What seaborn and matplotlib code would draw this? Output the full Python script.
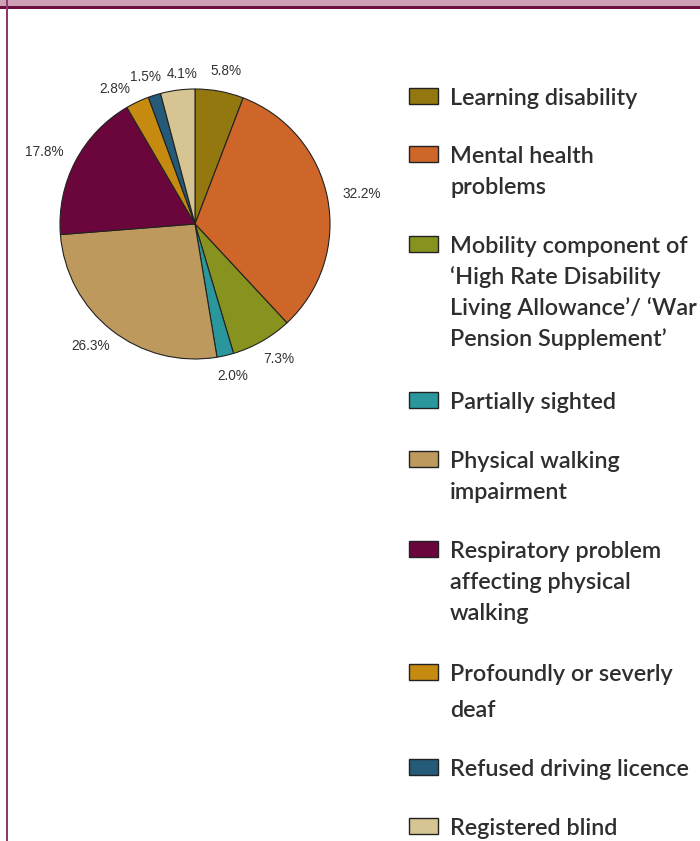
import numpy as np
import matplotlib
matplotlib.use("Agg")
import matplotlib.pyplot as plt
from matplotlib.patches import Rectangle
import seaborn as sns

# ---- data ----
categories = [
    "Learning disability",
    "Mental health\nproblems",
    "Mobility component of\n\u2018High Rate Disability\nLiving Allowance\u2019/ \u2018War\nPension Supplement\u2019",
    "Partially sighted",
    "Physical walking\nimpairment",
    "Respiratory problem\naffecting physical\nwalking",
    "Profoundly or severly\ndeaf",
    "Refused driving licence",
    "Registered blind",
]
values = [5.8, 32.2, 7.3, 2.0, 26.3, 17.8, 2.8, 1.5, 4.1]
pct_labels = ["5.8%", "32.2%", "7.3%", "2.0%", "26.3%", "17.8%", "2.8%", "1.5%", "4.1%"]
colors = ["#93780f", "#cd6628", "#88921e", "#2a979c", "#bd995d",
          "#6a063b", "#c68a10", "#255a78", "#d6c492"]

sns.set_theme(style="white")
plt.rcParams["font.family"] = ["Liberation Sans", "DejaVu Sans"]

W, H = 700, 841
fig = plt.figure(figsize=(W / 100, H / 100), dpi=100)
fig.patch.set_facecolor("white")

def fx(px):
    return px / W

def fy(py):
    return 1 - py / H

# frame decorations
fig.patches.append(Rectangle((0, fy(6)), 1, 6 / H, transform=fig.transFigure,
                             facecolor="#cda0b5", edgecolor="none", zorder=0))
fig.patches.append(Rectangle((0, fy(8.5)), 1, 2.5 / H, transform=fig.transFigure,
                             facecolor="#6a0f40", edgecolor="none", zorder=1))
fig.patches.append(Rectangle((fx(6), 0), 1.6 / W, 1, transform=fig.transFigure,
                             facecolor="#8b3a6b", edgecolor="none", zorder=1))

# pie axes
cx, cy, r = 195, 224, 135
ax = fig.add_axes([fx(cx - r), fy(cy + r), 2 * r / W, 2 * r / H])
wedges, _ = ax.pie(values, colors=colors, startangle=90, counterclock=False,
                   radius=1, wedgeprops=dict(edgecolor="#222222", linewidth=0.8))
ax.set_xlim(-1, 1)
ax.set_ylim(-1, 1)
ax.set_aspect("auto")
ax.axis("off")

# small nudges (pixels) for crowded labels
nudge = {6: (-8, -6), 8: (9, -4), 7: (1, -1)}
for i, (w, lab) in enumerate(zip(wedges, pct_labels)):
    th = np.deg2rad((w.theta1 + w.theta2) / 2)
    c, s = np.cos(th), np.sin(th)
    dx, dy = nudge.get(i, (0, 0))
    ax.annotate(lab, xy=(1.1 * c, 1.1 * s),
                xytext=((21 * c + dx) * 0.72, (7 * s + dy) * 0.72),
                textcoords="offset points", ha="center", va="center",
                fontsize=9.8, color="#333333", annotation_clip=False)

# legend
baselines = [105, 163, 253, 409, 468, 558, 681, 776, 835]
line_gaps = [31, 31, 31, 31, 31, 31, 36, 31, 31]
for cat, col, b, gap in zip(categories, colors, baselines, line_gaps):
    fig.patches.append(Rectangle((fx(409), fy(b - 1)), 29 / W, 16 / H,
                                 transform=fig.transFigure, facecolor=col,
                                 edgecolor="#222222", linewidth=1.0, zorder=3))
    for i, line in enumerate(cat.split("\n")):
        fig.text(fx(450), fy(b + i * gap), line, ha="left", va="baseline",
                 fontsize=16.8, color="#2e2e2e", family=["Lato", "DejaVu Sans"],
                 fontweight="semibold")

fig.savefig("out.png", dpi=100, facecolor="white")
